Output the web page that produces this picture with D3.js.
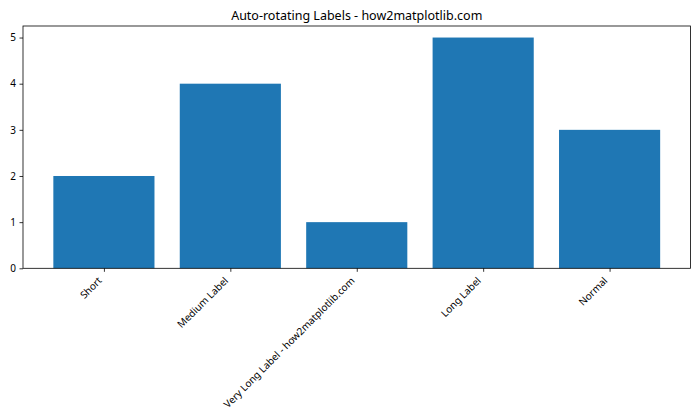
<!DOCTYPE html>
<html><head><meta charset="utf-8">
<script src="https://cdn.jsdelivr.net/npm/d3@7"></script>
<style>body{margin:0;background:#fff}svg{display:block}text{font-family:"Noto Sans",sans-serif}</style>
</head><body>
<svg id="c" width="700" height="420"></svg>
<script>
const categories = ["Short", "Medium Label", "Very Long Label - how2matplotlib.com", "Long Label", "Normal"];
const values = [2, 4, 1, 5, 3];
const yTicks = [0, 1, 2, 3, 4, 5];
const title = "Auto-rotating Labels - how2matplotlib.com";

const svg = d3.select("#c");
const L = 23, R = 690.5, T = 26, B = 268.3;
const x = d3.scaleLinear().domain([-0.64, 4.64]).range([L, R]);
const y = d3.scaleLinear().domain([0, 5.25]).range([B, T]);
const bw = 0.8;

svg.append("g").selectAll("rect").data(values).join("rect")
  .attr("x", (d, i) => x(i - bw / 2))
  .attr("width", (d, i) => x(i + bw / 2) - x(i - bw / 2))
  .attr("y", d => y(d))
  .attr("height", d => y(0) - y(d))
  .attr("fill", "#1f77b4");

const ya = svg.append("g").attr("transform", `translate(${L},0)`)
  .call(d3.axisLeft(y).tickValues(yTicks).tickFormat(d3.format("d")).tickSize(3.5).tickPadding(3.5));
ya.select(".domain").remove();
ya.selectAll("line").attr("stroke", "#000").attr("stroke-width", 0.8);
ya.selectAll("text").attr("font-size", 10).attr("fill", "#000").style("font-family", '"Noto Sans",sans-serif');

const xa = svg.append("g").attr("transform", `translate(0,${B})`)
  .call(d3.axisBottom(x).tickValues(d3.range(categories.length)).tickFormat(i => categories[i]).tickSize(3.5));
xa.select(".domain").remove();
xa.selectAll("line").attr("stroke", "#000").attr("stroke-width", 0.8);
xa.selectAll("text")
  .attr("font-size", 10).attr("fill", "#000").style("font-family", '"Noto Sans",sans-serif')
  .attr("text-anchor", "end").attr("dy", null).attr("y", null)
  .attr("transform", "translate(-2,13) rotate(-45)");

svg.append("rect").attr("x", L).attr("y", T).attr("width", R - L).attr("height", B - T)
  .attr("fill", "none").attr("stroke", "#000").attr("stroke-width", 0.8);

svg.append("text").attr("x", (L + R) / 2).attr("y", 20).attr("text-anchor", "middle")
  .attr("font-size", 12.5).attr("fill", "#000").text(title);
</script>
</body></html>
